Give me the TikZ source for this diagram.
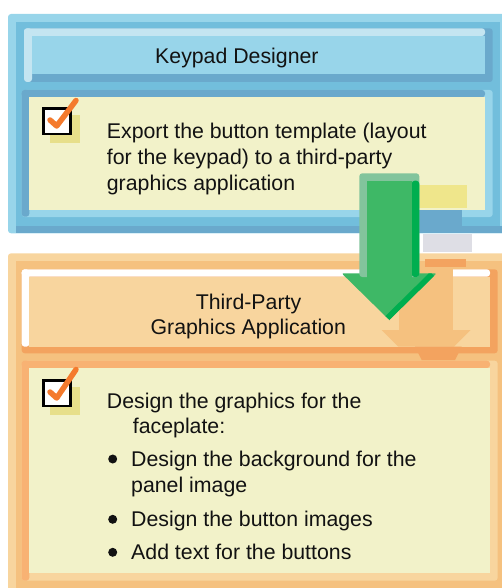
\documentclass[tikz,border=0pt]{standalone}
\usepackage{fontspec}
\setmainfont{Liberation Sans}
\definecolor{bluelight}{HTML}{98D5EA}
\definecolor{bluemid}{HTML}{72BEDC}
\definecolor{bluedark}{HTML}{6AA9CC}
\definecolor{bluehi}{HTML}{C4E5F1}
\definecolor{yellowfill}{HTML}{F2F2C9}
\definecolor{orlight}{HTML}{F8D59E}
\definecolor{ormid}{HTML}{F5C17F}
\definecolor{ordark}{HTML}{F3A35F}
\definecolor{orborder}{HTML}{F8B273}
\definecolor{checkorange}{HTML}{F47A2D}
\definecolor{shadowy}{HTML}{E7DF8A}
\definecolor{yellowrect}{HTML}{EFE68B}
\definecolor{grayrect}{HTML}{DEDEE5}
\definecolor{agreen}{HTML}{3EB866}
\definecolor{agreenlight}{HTML}{82C49C}
\definecolor{agreendark}{HTML}{00AE4F}
\begin{document}
\begin{tikzpicture}[x=1pt,y=-1pt,
  txt/.style={inner sep=0pt, anchor=base west, font=\fontsize{21.3}{26}\selectfont, text=black!93},
  bulletdot/.style={circle, fill=black!93, inner sep=0pt, minimum size=9pt},
  checkbox/.style={draw=black, line width=2.5pt, fill=white},
  checkmark/.style={checkorange, line width=5.5pt, line cap=round, line join=round}]
\useasboundingbox (0,0) rectangle (502,588);
\clip (0,0) rectangle (502,588);

% ---------- blue panel ----------
\fill[bluelight, rounded corners=3] (8,14) rectangle (515,233.3);
\fill[bluedark] (16,225.7) rectangle (515,233.3);
\fill[bluemid] (16,21.7) rectangle (500,225.7);
% header bar
\fill[bluedark, rounded corners=3] (24,28.3) rectangle (492.7,82);
\fill[bluehi, rounded corners=3] (24,28.3) rectangle (485,36);
\fill[bluehi, rounded corners=3] (24,28.3) rectangle (32,82);
\fill[bluelight] (32,36) rectangle (485,74);
% content box
\fill[bluelight, rounded corners=3] (21.7,90) rectangle (492.7,217);
\fill[bluedark, rounded corners=3] (21.7,90) rectangle (29.3,216.7);
\fill[bluedark, rounded corners=3] (21.7,90) rectangle (485,97.3);
\fill[yellowfill] (29.3,97.3) rectangle (485,210);
\fill[yellowrect] (418,185) rectangle (466.7,207.7);
\fill[bluedark] (418,210) rectangle (461.7,226.7);

% ---------- orange panel ----------
\fill[orlight, rounded corners=3] (8,253.3) rectangle (515,600);
\fill[ormid] (16,261) rectangle (515,600);
% header bar
\fill[ordark, rounded corners=3] (21.7,269.3) rectangle (497.7,353.3);
\fill[white, rounded corners=3] (21.7,269.3) rectangle (490,276.7);
\fill[white, rounded corners=3] (21.7,269.3) rectangle (29.3,346.7);
\fill[orlight] (29.3,276.7) rectangle (490,346.7);
% content box
\fill[orlight, rounded corners=3] (21.7,360.7) rectangle (497.7,580.7);
\fill[orborder, rounded corners=3] (21.7,360.7) rectangle (29.3,580.7);
\fill[orborder, rounded corners=3] (21.7,360.7) rectangle (490,368);
\fill[yellowfill] (29.3,368) rectangle (490,572.7);

% ---------- ghost shapes ----------
\fill[grayrect] (423,234) rectangle (471.7,251.7);
\fill[ordark] (425,259.3) rectangle (465.7,267.3);
\fill[ormid] (399.3,269.3) rectangle (453.3,330);
\fill[ormid] (381.7,330) -- (470.7,330) -- (454,346.7) -- (398.4,346.7) -- cycle;
\fill[ordark] (415,346.7) -- (461.7,346.7) -- (455,360) -- (421.7,360) -- cycle;

% ---------- green arrow ----------
\fill[agreen, rounded corners=2] (341.7,273.3) -- (436.7,273.3) -- (389.3,320) -- cycle;
\begin{scope}
  \clip (341.7,273.3) -- (436.7,273.3) -- (389.3,320) -- cycle;
  \draw[agreendark, line width=11pt] (434,276) -- (389.3,320);
\end{scope}
\fill[agreenlight, rounded corners=3] (359.3,173.3) rectangle (419.3,277);
\fill[agreendark, rounded corners=3] (411.7,180.7) rectangle (419.3,277);
\fill[agreen] (366.7,180.7) rectangle (411.7,278);

% ---------- checkboxes ----------
\fill[shadowy] (50,115) rectangle (80,143.3);
\draw[checkbox] (43.5,108.5) rectangle (70.5,133.8);
\draw[checkmark] (50,120) -- (56.7,126) -- (76,100.5);

\fill[shadowy] (50,387) rectangle (80,415);
\draw[checkbox] (43.5,380.5) rectangle (70.5,405.8);
\draw[checkmark] (50,392) -- (56.7,398) -- (76,369.5);

% ---------- texts ----------
\node[txt] (kd) at (155,64) {Keypad Designer};
\node[txt] (e1) at (106.7,138.5) {Export the button template (layout};
\node[txt] (e2) at (106.7,164.5) {for the keypad) to a third-party};
\node[txt] (e3) at (106.7,190.3) {graphics application};

\node[txt, anchor=base] (t1) at (248.5,309.3) {Third-Party};
\node[txt, anchor=base] (t2) at (248.3,334) {Graphics Application};

\node[txt] (d1) at (106.7,408.3) {Design the graphics for the};
\node[txt] (d2) at (132.7,433.3) {faceplate:};
\node[bulletdot] (b1) at (112.7,459) {};
\node[txt] (d3) at (131,466.7) {Design the background for the};
\node[txt] (d4) at (131,492.3) {panel image};
\node[bulletdot] (b2) at (112.7,519.3) {};
\node[txt] (d5) at (131,526.7) {Design the button images};
\node[bulletdot] (b3) at (112.7,552.3) {};
\node[txt] (d6) at (131,559.3) {Add text for the buttons};
\end{tikzpicture}
\end{document}
